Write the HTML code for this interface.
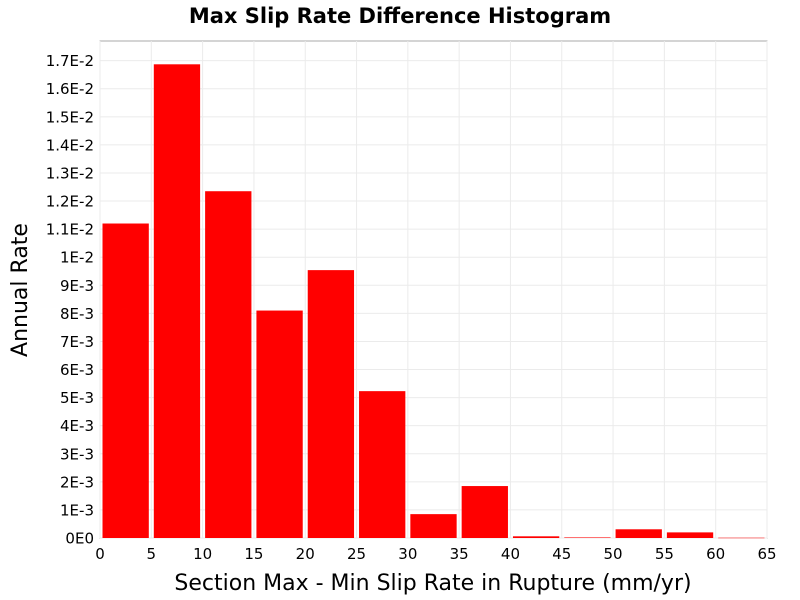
<!DOCTYPE html>
<html><head><meta charset="utf-8"><style>
body{margin:0;background:#fff;}
svg{display:block;font-family:"DejaVu Sans","Liberation Sans",sans-serif;}
</style></head><body>
<svg id="chart" width="800" height="600">
<text x="400" y="23" text-anchor="middle" font-size="21" font-weight="bold">Max Slip Rate Difference Histogram</text>
<rect x="100" y="41" width="667" height="497" fill="#fff" stroke="#aaa"/>
<g id="grid"></g><g id="bars"></g><g id="axes"></g>
<text x="433" y="590" text-anchor="middle" font-size="22">Section Max - Min Slip Rate in Rupture (mm/yr)</text>
<text transform="translate(27,290) rotate(-90)" text-anchor="middle" font-size="22">Annual Rate</text>
</svg>
<script>
const binStarts=[0,5,10,15,20,25,30,35,40,45,50,55,60];
const rates=[0.0112,0.01687,0.01235,0.0081,0.00954,0.00523,0.00085,0.00185,0.00006,0.00002,0.00031,0.0002,0.00001];
const xTicks=[0,5,10,15,20,25,30,35,40,45,50,55,60,65];
const yTicks=[0,0.001,0.002,0.003,0.004,0.005,0.006,0.007,0.008,0.009,0.01,0.011,0.012,0.013,0.014,0.015,0.016,0.017];
const yLabels=["0E0","1E-3","2E-3","3E-3","4E-3","5E-3","6E-3","7E-3","8E-3","9E-3","1E-2","1.1E-2","1.2E-2","1.3E-2","1.4E-2","1.5E-2","1.6E-2","1.7E-2"];
const binWidth=5;
const NS="http://www.w3.org/2000/svg";
const X0=100,X1=767,Y0=538,Y1=41;
const xs=v=>X0+(v-0)/65*(X1-X0);
const ys=v=>Y0-v/0.0177*(Y0-Y1);
const grid=document.getElementById('grid'),bars=document.getElementById('bars'),axes=document.getElementById('axes');
function mk(tag,attrs,parent){const e=document.createElementNS(NS,tag);for(const k in attrs)e.setAttribute(k,attrs[k]);parent.appendChild(e);return e;}
xTicks.forEach((t,i)=>{
  const l=mk('line',{x1:xs(t),x2:xs(t),y1:Y1,y2:Y0,stroke:'#ebebeb'},grid);
  
  
  const tx=mk('text',{x:xs(t),y:559,'text-anchor':'middle','font-size':15},axes);
  tx.textContent=t;
  
  
});
yTicks.forEach((t,i)=>{
  const l=mk('line',{x1:X0,x2:X1,y1:ys(t),y2:ys(t),stroke:'#ebebeb'},grid);
  
  
  const tx=mk('text',{x:94,y:ys(t)+5.5,'text-anchor':'end','font-size':15},axes);
  tx.textContent=yLabels[i];
  
  
});
binStarts.forEach((b,i)=>{
  const xa=xs(b)+2.5,xb=xs(b+binWidth)-2.5,y=ys(rates[i]);
  const r=mk('rect',{x:xa,y:y,width:xb-xa,height:Math.max(Y0-y,0.5),fill:'#ff0000'},bars);
  
  
});
</script>
</body></html>
